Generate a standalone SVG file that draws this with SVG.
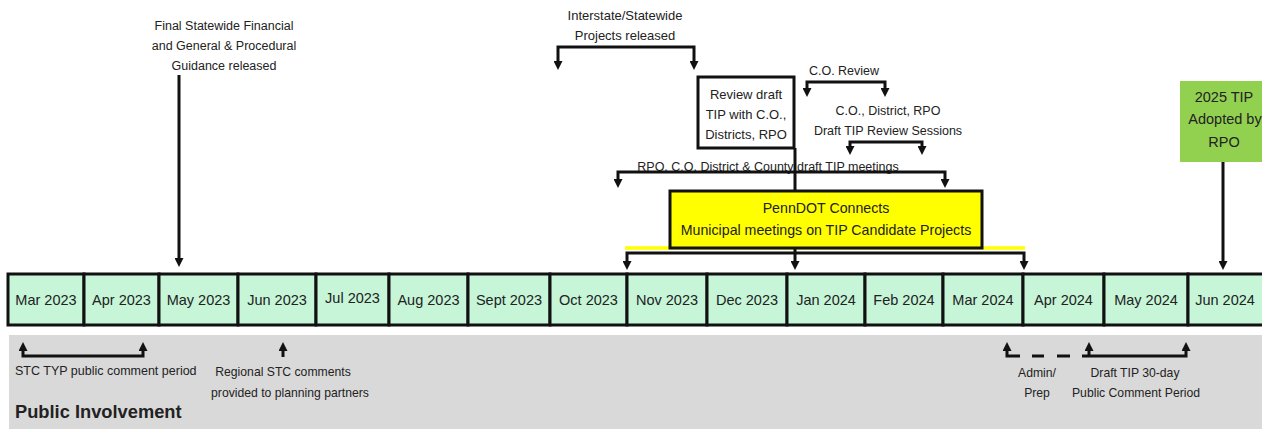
<svg xmlns="http://www.w3.org/2000/svg" width="1262" height="429" viewBox="0 0 1262 429">
<style>
text{font-family:"Liberation Sans",Arial,sans-serif;fill:#222;}
.lbl{font-size:12.5px;text-anchor:middle;}
.mon{font-size:14.5px;text-anchor:middle;}
.cell{fill:#c6f5d8;stroke:#111;stroke-width:3;}
.ln{fill:none;stroke:#111;stroke-width:3;}
.arr{fill:none;stroke:#111;stroke-width:3;marker-end:url(#ah);}
.arr2{fill:none;stroke:#111;stroke-width:3;marker-start:url(#ah);marker-end:url(#ah);}
</style>
<defs>
<marker id="ah" viewBox="0 0 10 10" refX="3.3" refY="5" markerWidth="9" markerHeight="9" markerUnits="userSpaceOnUse" orient="auto-start-reverse">
<path d="M0,0 L10,5 L0,10 z" fill="#111"/>
</marker>
</defs>
<rect width="1262" height="429" fill="#fff"/>
<g id="public-involvement-band">
<rect x="9" y="335" width="1253" height="94" fill="#d9d9d9"/>
<text x="15" y="418" style="font-size:18.3px;font-weight:bold">Public Involvement</text>
</g>
<g id="timeline">
<rect class="cell" x="8" y="274" width="76" height="51"/>
<rect class="cell" x="84" y="274" width="75" height="51"/>
<rect class="cell" x="159" y="274" width="79" height="51"/>
<rect class="cell" x="238" y="274" width="78" height="51"/>
<rect class="cell" x="316" y="274" width="73" height="51"/>
<rect class="cell" x="389" y="274" width="79" height="51"/>
<rect class="cell" x="468" y="274" width="82" height="51"/>
<rect class="cell" x="550" y="274" width="77" height="51"/>
<rect class="cell" x="627" y="274" width="80" height="51"/>
<rect class="cell" x="707" y="274" width="80" height="51"/>
<rect class="cell" x="787" y="274" width="78" height="51"/>
<rect class="cell" x="865" y="274" width="78" height="51"/>
<rect class="cell" x="943" y="274" width="80" height="51"/>
<rect class="cell" x="1023" y="274" width="81" height="51"/>
<rect class="cell" x="1104" y="274" width="84" height="51"/>
<rect class="cell" x="1188" y="274" width="80" height="51"/>
<text class="mon" x="46" y="305">Mar 2023</text>
<text class="mon" x="121.5" y="305">Apr 2023</text>
<text class="mon" x="198.5" y="305">May 2023</text>
<text class="mon" x="277" y="305">Jun 2023</text>
<text class="mon" x="352.5" y="303">Jul 2023</text>
<text class="mon" x="428.5" y="305">Aug 2023</text>
<text class="mon" x="509" y="305">Sept 2023</text>
<text class="mon" x="588.5" y="305">Oct 2023</text>
<text class="mon" x="667" y="305">Nov 2023</text>
<text class="mon" x="747" y="305">Dec 2023</text>
<text class="mon" x="826" y="305">Jan 2024</text>
<text class="mon" x="904" y="305">Feb 2024</text>
<text class="mon" x="983" y="305">Mar 2024</text>
<text class="mon" x="1063.5" y="305">Apr 2024</text>
<text class="mon" x="1146" y="305">May 2024</text>
<text class="mon" x="1225" y="305">Jun 2024</text>
</g>
<g id="final-guidance">
<text class="lbl" x="224" y="29.5">Final Statewide Financial</text>
<text class="lbl" x="224" y="49.5">and General &amp; Procedural</text>
<text class="lbl" x="224" y="69.5">Guidance released</text>
</g>
<g id="interstate-projects">
<text class="lbl" x="625" y="19.5" style="font-size:13px">Interstate/Statewide</text>
<text class="lbl" x="625" y="39.5" style="font-size:13px">Projects released</text>
</g>
<g id="co-review">
<text class="lbl" x="844" y="74.5">C.O. Review</text>
</g>
<g id="review-sessions">
<text class="lbl" x="888" y="114.5">C.O., District, RPO</text>
<text class="lbl" x="888" y="134.5">Draft TIP Review Sessions</text>
</g>
<g id="rpo-meetings">
<text class="lbl" x="768" y="171">RPO, C.O, District &amp; County draft TIP meetings</text>
</g>
<g id="connectors">
<line x1="625" y1="248" x2="1025" y2="248" stroke="#ffff00" stroke-width="3.5"/>
<path class="arr" d="M179,75 V261"/>
<path class="arr2" d="M558,64 V47 H694 V64"/>
<path class="arr2" d="M807,91 V82 H885 V91"/>
<path class="arr2" d="M850,149 V142 H922 V149"/>
<path class="arr2" d="M618,182 V172 H945 V182"/>
<path class="ln" d="M795,148 V191"/>
<path class="arr2" d="M627,264 V253 H1024 V264"/>
<path class="arr" d="M795,248 V264"/>
<path class="arr" d="M1223,162 V264"/>
<path class="arr2" d="M23,348 V356 H143 V348"/>
<path class="arr" d="M283,357 V348"/>
<path class="arr" d="M1020,356 H1007 V348"/>
<path class="ln" d="M1032,356 H1044 M1057,356 H1070"/>
<path class="arr" d="M1082,356 H1186 V348"/>
<path class="arr" d="M1089,356 V348"/>
</g>
<g id="review-draft-box">
<rect x="698" y="77" width="96" height="71" fill="#fff" stroke="#111" stroke-width="3"/>
<text class="lbl" x="746" y="98.5" style="font-size:13px">Review draft</text>
<text class="lbl" x="746" y="118.5" style="font-size:13px">TIP with C.O.,</text>
<text class="lbl" x="746" y="138.5" style="font-size:13px">Districts,  RPO</text>
</g>
<g id="penndot-connects">
<rect x="670" y="191" width="312" height="57" fill="#ffff00" stroke="#111" stroke-width="3"/>
<text x="826" y="213" style="font-size:14.2px;text-anchor:middle">PennDOT Connects</text>
<text x="826" y="235" style="font-size:14.2px;text-anchor:middle">Municipal meetings on TIP Candidate Projects</text>
</g>
<g id="tip-adopted">
<rect x="1180" y="81" width="90" height="81" fill="#92d050"/>
<text class="lbl" x="1224" y="101.5" style="font-size:14.5px">2025 TIP</text>
<text class="lbl" x="1225" y="123.5" style="font-size:14.5px">Adopted by</text>
<text class="lbl" x="1224" y="146.5" style="font-size:14.5px">RPO</text>
</g>
<g id="stc-comment">
<text x="15" y="375" style="font-size:12.5px">STC TYP public comment period</text>
</g>
<g id="regional-stc">
<text class="lbl" x="283" y="376" style="font-size:12.2px">Regional STC comments</text>
<text class="lbl" x="290" y="397" style="font-size:12.2px">provided to planning partners</text>
</g>
<g id="admin-prep">
<text class="lbl" x="1037" y="377" style="font-size:12.2px">Admin/</text>
<text class="lbl" x="1037" y="397" style="font-size:12.2px">Prep</text>
</g>
<g id="draft-comment-period">
<text class="lbl" x="1135" y="377" style="font-size:12.2px">Draft TIP 30-day</text>
<text class="lbl" x="1136" y="397" style="font-size:12.2px">Public Comment Period</text>
</g>
</svg>
